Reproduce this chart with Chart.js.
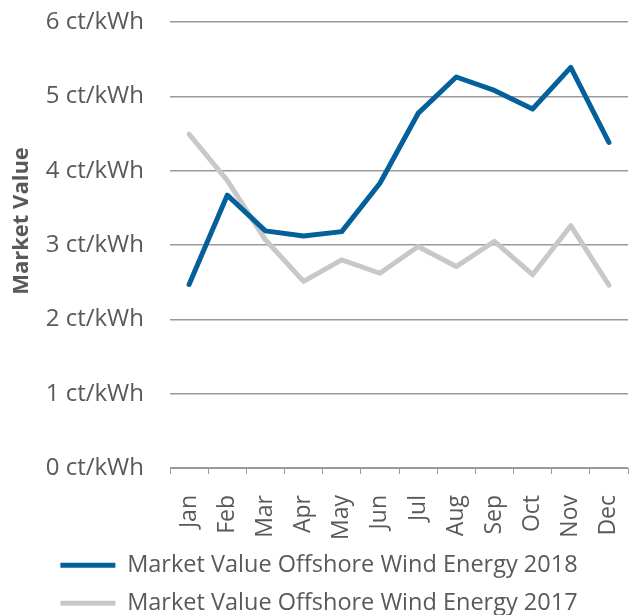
<!DOCTYPE html>
<html>
<head>
<meta charset="utf-8">
<script src="https://cdn.jsdelivr.net/npm/chart.js@4.4.1/dist/chart.umd.min.js"></script>
<style>
  html, body { margin: 0; padding: 0; background: #fff; }
  #wrap { width: 636px; height: 615px; }
</style>
</head>
<body>
<div id="wrap"><canvas id="chart"></canvas></div>
<script>
// --- DATA ---
const months = ['Jan', 'Feb', 'Mar', 'Apr', 'May', 'Jun', 'Jul', 'Aug', 'Sep', 'Oct', 'Nov', 'Dec'];
const value2018 = [2.47, 3.67, 3.19, 3.12, 3.18, 3.83, 4.77, 5.26, 5.08, 4.83, 5.39, 4.38];
const value2017 = [4.49, 3.87, 3.07, 2.51, 2.80, 2.62, 2.98, 2.71, 3.05, 2.60, 3.26, 2.46];
const yTicks = [0, 1, 2, 3, 4, 5, 6];

const label2018 = 'Market Value Offshore Wind Energy 2018';
const label2017 = 'Market Value Offshore Wind Energy 2017';
const yTitle = 'Market Value';

const BLUE = '#03609b';
const GRAY = '#c8c8c8';
const TEXT = '#595959';
const GRID = '#9a9a9a';
const FONT = "'Open Sans', sans-serif";

// y axis title, drawn a bit above the plot centre like the original
const yTitlePlugin = {
    id: 'yTitle',
    afterDraw(chart) {
        const c = chart.ctx;
        const area = chart.chartArea;
        c.save();
        c.translate(22, (area.top + area.bottom) / 2 - 24);
        c.rotate(-Math.PI / 2);
        c.font = "bold 22px " + FONT;
        c.fillStyle = TEXT;
        c.textAlign = 'center';
        c.textBaseline = 'middle';
        c.fillText(yTitle, 0, 0);
        c.restore();
    }
};

const ctx = document.getElementById('chart').getContext('2d');
const chart = new Chart(ctx, {
    type: 'line',
    data: {
        labels: months,
        datasets: [{
            label: label2018,
            data: value2018,
            borderColor: BLUE,
            backgroundColor: BLUE,
            borderWidth: 5,
            borderCapStyle: 'round',
            borderJoinStyle: 'round',
            pointRadius: 0,
            tension: 0,
            order: 0
        }, {
            label: label2017,
            data: value2017,
            borderColor: GRAY,
            backgroundColor: GRAY,
            borderWidth: 5,
            borderCapStyle: 'round',
            borderJoinStyle: 'round',
            pointRadius: 0,
            tension: 0,
            order: 1
        }]
    },
    options: {
        responsive: true,
        maintainAspectRatio: false,
        animation: false,
        layout: { padding: { left: 10, right: 8, top: 22, bottom: -10 } },
        scales: {
            x: {
                offset: true,
                grid: { drawOnChartArea: false, drawTicks: true, tickLength: 6, color: GRID, offset: true },
                border: { color: GRID, width: 1 },
                ticks: {
                    color: TEXT,
                    font: { family: FONT, size: 23 },
                    minRotation: 90,
                    maxRotation: 90,
                    padding: 21,
                    autoSkip: false
                },
                afterFit(scale) {
                    scale.height = 71;
                    scale.paddingLeft = 0;
                    scale.paddingRight = 0;
                }
            },
            y: {
                min: 0,
                max: 6,
                afterBuildTicks(scale) { scale.ticks = yTicks.map(v => ({ value: v })); },
                grid: { color: GRID, lineWidth: 1.5, drawTicks: false },
                border: { display: false },
                ticks: {
                    color: TEXT,
                    font: { family: FONT, size: 24 },
                    padding: 26,
                    callback: v => v + ' ct/kWh'
                },
                afterFit(scale) {
                    scale.width = 160;
                    scale.paddingTop = 0;
                    scale.paddingBottom = 0;
                }
            }
        },
        plugins: {
            legend: {
                position: 'bottom',
                align: 'center',
                labels: {
                    color: TEXT,
                    font: { family: FONT, size: 23.5 },
                    usePointStyle: true,
                    pointStyle: 'line',
                    pointStyleWidth: 55,
                    boxHeight: 23.5,
                    padding: 14.5
                }
            },
            tooltip: { enabled: false }
        }
    },
    plugins: [yTitlePlugin]
});
</script>
</body>
</html>
